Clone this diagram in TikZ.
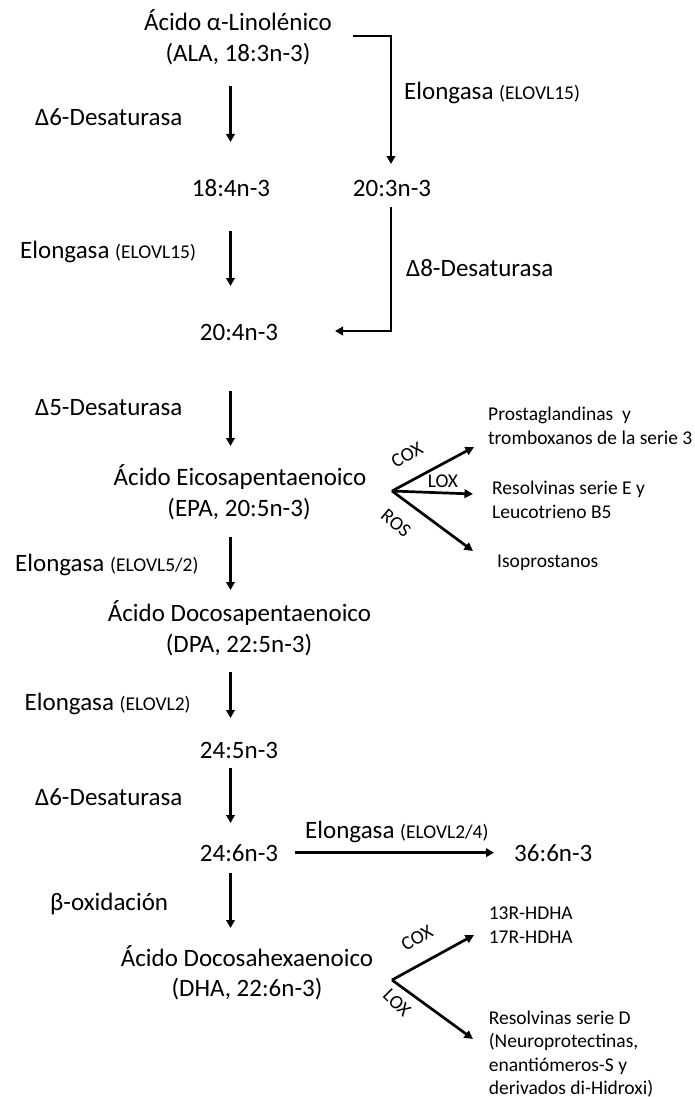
\documentclass[tikz,border=0pt]{standalone}
\usepackage{fontspec}
\setmainfont{Carlito}
\usetikzlibrary{arrows.meta}
\newcommand\enzsmall[1]{{\fontsize{19.5}{24}\selectfont #1}}
\begin{document}
\begin{tikzpicture}[x=1pt,y=-1pt,
  main/.style={font=\fontsize{25}{31}\selectfont, inner sep=0pt, anchor=base},
  lab/.style={font=\fontsize{25}{31}\selectfont, inner sep=0pt, anchor=base west},
  sm/.style={font=\fontsize{19.5}{24}\selectfont, inner sep=0pt, anchor=base west},
  arr/.style={line width=2.5pt, -{Triangle[length=8pt,width=8.5pt]}},
  farr/.style={line width=2.7pt, -{Triangle[length=8.5pt,width=8.5pt]}}]
\fill[white] (0,0) rectangle (695,1097);
\useasboundingbox (0,0) rectangle (695,1097);
% compounds
\node[main] (ala1) at (238,31) {Ácido α-Linolénico};
\node[main] (ala2) at (238,62) {(ALA, 18:3n-3)};
\node[main] (n184) at (231,196) {18:4n-3};
\node[main] (n203) at (392,196) {20:3n-3};
\node[main] (n204) at (239,340) {20:4n-3};
\node[main] (epa1) at (240,485) {Ácido Eicosapentaenoico};
\node[main] (epa2) at (239,516) {(EPA, 20:5n-3)};
\node[main] (dpa1) at (239.5,621) {Ácido Docosapentaenoico};
\node[main] (dpa2) at (239,652) {(DPA, 22:5n-3)};
\node[main] (n245) at (239,758) {24:5n-3};
\node[main] (n246) at (239,861) {24:6n-3};
\node[lab] (n366) at (514,861) {36:6n-3};
\node[main] (dha1) at (247,966) {Ácido Docosahexaenoico};
\node[main] (dha2) at (247,996) {(DHA, 22:6n-3)};
% enzymes
\node[lab] (e1) at (404,100) {Elongasa \enzsmall{(ELOVL15)}};
\node[lab] (e2) at (35,125) {Δ6-Desaturasa};
\node[lab] (e3) at (20,258) {Elongasa \enzsmall{(ELOVL15)}};
\node[lab] (e4) at (406,276) {Δ8-Desaturasa};
\node[lab] (e5) at (35,415) {Δ5-Desaturasa};
\node[lab] (e6) at (15,571) {Elongasa \enzsmall{(ELOVL5/2)}};
\node[lab] (e7) at (24.5,710) {Elongasa \enzsmall{(ELOVL2)}};
\node[lab] (e8) at (35,805) {Δ6-Desaturasa};
\node[lab] (e9) at (305,838) {Elongasa \enzsmall{(ELOVL2/4)}};
\node[lab] (e10) at (50,910) {β-oxidación};
% vertical arrows
\coordinate (a1s) at (230.5,86);  \coordinate (a1e) at (230.5,142);
\coordinate (a2s) at (230.5,231); \coordinate (a2e) at (230.5,286);
\coordinate (a3s) at (230.5,391); \coordinate (a3e) at (230.5,446);
\coordinate (a4s) at (230.5,537); \coordinate (a4e) at (230.5,590);
\coordinate (a5s) at (230.5,672); \coordinate (a5e) at (230.5,718);
\coordinate (a6s) at (230.5,768); \coordinate (a6e) at (230.5,823);
\coordinate (a7s) at (230.5,873); \coordinate (a7e) at (230.5,928);
\foreach \i in {1,...,7} {\draw[arr] (a\i s) -- (a\i e);}
% elbows
\coordinate (b1s) at (353,36); \coordinate (b1e) at (391,164);
\draw[arr] (b1s) -| (b1e);
\coordinate (b2s) at (391,207); \coordinate (b2e) at (335,331);
\draw[arr] (b2s) |- (b2e);
% horizontal
\draw[arr, shorten <=17pt, shorten >=20pt] (n246.east) -- (n366.west);
% EPA fan
\coordinate (fe) at (392,491);
\coordinate (fe1) at (474,447); \coordinate (fe2) at (473,494); \coordinate (fe3) at (473,551);
\draw[farr] (fe) -- (fe1);
\draw[farr] (fe) -- (fe2);
\draw[farr] (fe) -- (fe3);
\node[sm, anchor=center, rotate=30] (cox1) at (407,455) {COX};
\node[sm, anchor=center] (lox1) at (443,481) {LOX};
\node[sm, anchor=center, rotate=-40] (ros1) at (396,523) {ROS};
\node[sm] (p1) at (488,420) {Prostaglandinas~ y};
\node[sm] (p2) at (488,444) {tromboxanos de la serie 3};
\node[sm] (r1) at (492,494) {Resolvinas serie E y};
\node[sm] (r2) at (492,518) {Leucotrieno B5};
\node[sm] (iso) at (497,567) {Isoprostanos};
% DHA fan
\coordinate (fd) at (392,980);
\coordinate (fd1) at (474,935); \coordinate (fd2) at (473,1039);
\draw[farr] (fd) -- (fd1);
\draw[farr] (fd) -- (fd2);
\node[sm, anchor=center, rotate=30] (cox2) at (417,938) {COX};
\node[sm, anchor=center, rotate=-45] (lox2) at (397,1003) {LOX};
\node[sm] (h1) at (488.6,919) {13R-HDHA};
\node[sm] (h2) at (488.6,943) {17R-HDHA};
\node[sm] (d1) at (488.6,1024) {Resolvinas serie D};
\node[sm] (d2) at (488.6,1047) {(Neuroprotectinas,};
\node[sm] (d3) at (488.6,1071) {enantiómeros-S y};
\node[sm] (d4) at (488.6,1094) {derivados di-Hidroxi)};
\end{tikzpicture}
\end{document}
